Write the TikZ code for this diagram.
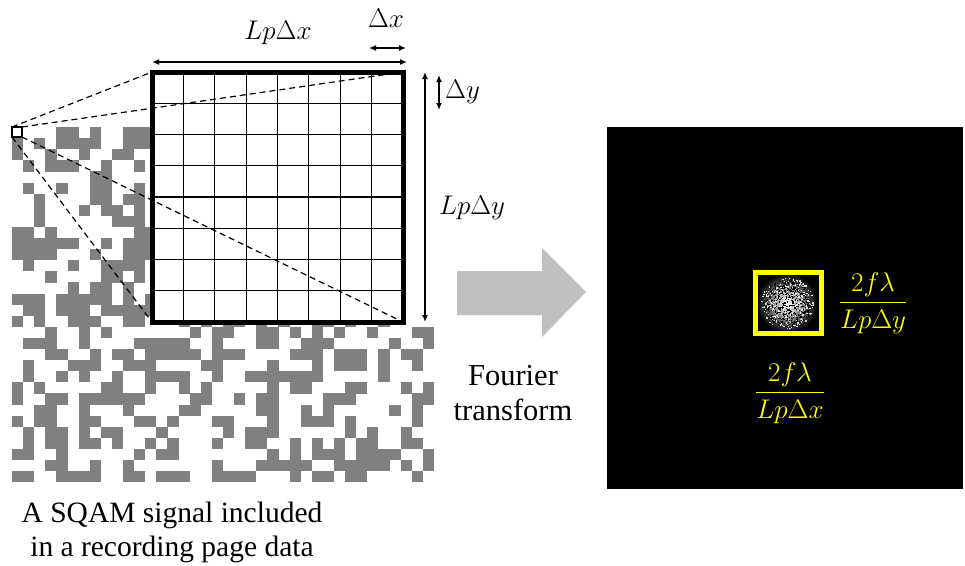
\RequirePackage{fix-cm}
\documentclass[tikz,border=0pt]{standalone}
\usepackage{amsmath}
\usepackage{fontspec}
\setmainfont{Liberation Serif}
\newfontfamily\timesfont{Liberation Serif}
\usetikzlibrary{arrows.meta,calc}
\definecolor{pgray}{RGB}{128,128,128}
\definecolor{agray}{RGB}{192,192,192}
\definecolor{yel}{RGB}{255,255,0}
\begin{document}
\begin{tikzpicture}[x=1pt,y=-1pt,
  dimarrow/.style={line width=1.4pt,{Latex[length=7pt,width=6pt]}-{Latex[length=7pt,width=6pt]}},
  dashline/.style={line width=1.2pt,dash pattern=on 6pt off 4pt},
  gridline/.style={line width=1.2pt},
  mathlbl/.style={inner sep=0pt,font=\fontsize{27}{32}\selectfont},
  yellbl/.style={inner sep=0pt,text=yel,font=\fontsize{27}{32}\selectfont},
  caption/.style={inner sep=0pt,align=center,font=\timesfont\fontsize{29.5}{34}\selectfont},
  ftcaption/.style={inner sep=0pt,align=center,font=\timesfont\fontsize{30.5}{35}\selectfont}]
\useasboundingbox (0,0) rectangle (965,565);
% random page data
\pgfmathsetseed{11}
\foreach \i in {0,...,37}{
  \foreach \j in {0,...,31}{
    \pgfmathtruncatemacro{\r}{random(0,99)}
    \pgfmathsetmacro{\xx}{12+11.1*\i}
    \pgfmathsetmacro{\yy}{127+11.1*\j}
    \pgfmathtruncatemacro{\hid}{and(\xx>400,\yy<322)}
    \ifnum\hid=0
      \ifnum\r<46
        \fill[pgray] (\xx,\yy) rectangle ++(11.2,11.2);
      \fi
    \fi
  }
}
% enlarged block with grid
\node[draw,fill=white,line width=5pt,minimum width=251pt,minimum height=250pt,inner sep=0pt,outer sep=0pt] (grid) at (277.5,197) {};
\foreach \k in {1,...,7}{
  \draw[gridline] ($(grid.north west)!\k/8!(grid.north east)$) -- ($(grid.south west)!\k/8!(grid.south east)$);
  \draw[gridline] ($(grid.north west)!\k/8!(grid.south west)$) -- ($(grid.north east)!\k/8!(grid.south east)$);
}
\draw[line width=5pt] (grid.north west) rectangle (grid.south east);
% small block
\node[draw,fill=white,line width=2pt,minimum width=10pt,minimum height=10pt,inner sep=0pt,outer sep=0pt] (sq) at (17,132) {};
\draw[dashline] (sq.north west) -- (grid.north west);
\draw[dashline] (sq.north east) -- (grid.north east);
\draw[dashline] (sq.south west) -- (grid.south west);
\draw[dashline] (sq.south east) -- (grid.south east);
% dimensions
\coordinate (dxl) at (152,62);
\coordinate (dxr) at (407,62);
\draw[dimarrow] (dxl) -- (dxr);
\node[mathlbl] (lpdx) at (278,33) {$Lp\Delta x$};
\coordinate (sxl) at (369,48);
\coordinate (sxr) at (406,48);
\draw[dimarrow] (sxl) -- (sxr);
\node[mathlbl] (ldx) at (386,18) {$\Delta x$};
\coordinate (dyt) at (425,72);
\coordinate (dyb) at (425,322);
\draw[dimarrow] (dyt) -- (dyb);
\node[mathlbl] (lpdy) at (472,208) {$Lp\Delta y$};
\coordinate (syt) at (439,75);
\coordinate (syb) at (439,110);
\draw[dimarrow] (syt) -- (syb);
\node[mathlbl,anchor=west] (ldy) at (445,92) {$\Delta y$};
% transform arrow
\fill[agray] (457,271) -- (542,271) -- (542,248) -- (586,292) -- (542,337) -- (542,315) -- (457,315) -- cycle;
\node[ftcaption] (ftxt) at (513,393) {Fourier\\transform};
% Fourier plane
\node[fill=black,minimum width=356pt,minimum height=362pt,inner sep=0pt,outer sep=0pt] (ft) at (785,308) {};
\shade[inner color=white,outer color=black] (787,303) circle (30);
\pgfmathsetseed{5}
\foreach \n in {1,...,500}{
  \pgfmathsetmacro{\ang}{360*rnd}
  \pgfmathsetmacro{\rad}{24*sqrt(rnd)}
  \fill[black] ($(787,303)+(\ang:\rad)$) rectangle ++(1.2,1.2);
}
\foreach \n in {1,...,300}{
  \pgfmathsetmacro{\ang}{360*rnd}
  \pgfmathsetmacro{\rad}{26*sqrt(rnd)}
  \fill[white,opacity=0.8] ($(787,303)+(\ang:\rad)$) rectangle ++(1.2,1.2);
}
\node[draw=yel,line width=5pt,minimum width=66pt,minimum height=61pt,inner sep=0pt,outer sep=0pt] (win) at (788.5,303) {};
\node[yellbl] (fy) at (873,303) {$\dfrac{2f\lambda}{Lp\Delta y}$};
\node[yellbl] (fx) at (790,393) {$\dfrac{2f\lambda}{Lp\Delta x}$};
% caption
\node[caption] (cap) at (172,532) {A SQAM signal included\\in a recording page data};
\end{tikzpicture}
\end{document}
